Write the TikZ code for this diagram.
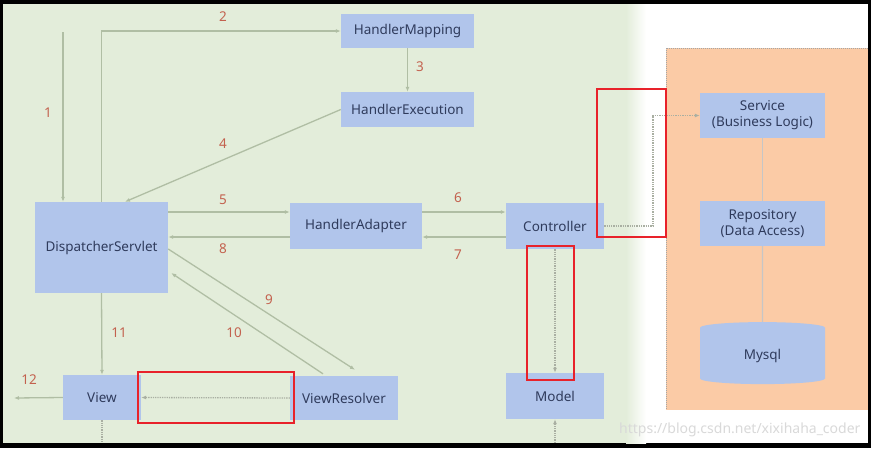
\documentclass[tikz,border=0pt]{standalone}
\usepackage{fontspec}
\setmainfont{Noto Sans}
\usepackage{xcolor}
\usepackage{tikz}
\usetikzlibrary{arrows.meta,calc,positioning,shapes.geometric}
\definecolor{pagegreen}{HTML}{E3EDDA}
\definecolor{boxblue}{HTML}{B1C5EB}
\definecolor{boxtext}{HTML}{2F3B5C}
\definecolor{flowline}{HTML}{B0BEA4}
\definecolor{steplabel}{HTML}{C3614E}
\definecolor{layerorange}{HTML}{FBCBA6}
\definecolor{markred}{HTML}{E8222A}
\definecolor{dotgray}{HTML}{A9AFA2}

\begin{document}
\begin{tikzpicture}[x=1pt,y=-1pt,>={Latex[length=5pt,width=4pt]},font=\fontsize{13.5}{16}\selectfont]
      \tikzstyle{mvcbox}=[fill=boxblue,text=boxtext,inner sep=0pt,align=center]
      \tikzstyle{flow}=[draw=flowline,line width=1.3pt]
      \tikzstyle{dotflow}=[draw=dotgray,line width=1.3pt,densely dotted]
      \tikzstyle{numlabel}=[text=steplabel,inner sep=0pt]
      \tikzstyle{redmark}=[draw=markred,line width=1.6pt]
      \useasboundingbox (0,0) rectangle (871,448);
      \fill[black] (0,0) rectangle (871,448);
      \fill[white] (3,4) rectangle (868,443);
      \fill[pagegreen] (3,4) rectangle (626,443);
      \shade[left color=pagegreen,right color=white] (626,4) rectangle (646,443);
      \fill[layerorange] (666,48) rectangle (868,410);
      \draw[gray!70,line width=1pt,densely dotted] (868,48) -- (666,48) -- (666,410);

      \node[mvcbox,minimum width=133pt,minimum height=34pt] (hmap) at (407.5,31) {HandlerMapping};
      \node[mvcbox,minimum width=133pt,minimum height=35pt] (hexec) at (407.5,109.5) {HandlerExecution};
      \node[mvcbox,minimum width=133pt,minimum height=91pt] (ds) at (101.5,247.5) {DispatcherServlet};
      \node[mvcbox,minimum width=132pt,minimum height=46pt] (hadapt) at (356,226) {HandlerAdapter};
      \node[mvcbox,minimum width=98pt,minimum height=46pt] (ctrl) at (555,226) {Controller};
      \node[mvcbox,minimum width=98pt,minimum height=46pt] (model) at (555,396) {Model};
      \node[mvcbox,minimum width=78pt,minimum height=45pt] (view) at (102,397.5) {View};
      \node[mvcbox,minimum width=108pt,minimum height=44pt] (vres) at (344,398) {ViewResolver};
      \node[mvcbox,minimum width=125pt,minimum height=45pt] (service) at (762.5,115.5) {Service\\(Business Logic)};
      \node[mvcbox,minimum width=125pt,minimum height=45pt] (repo) at (762.5,223.5) {Repository\\(Data Access)};
      \node[mvcbox,cylinder,shape border rotate=90,aspect=0.3,minimum width=125pt,minimum height=62pt] (mysql) at (762.5,356) {Mysql};

      \coordinate (start1) at (63,32);
      \coordinate (end12) at (14,398);
      \coordinate (bend) at (653,170);
      \coordinate (viewcut) at (102,443);
      \coordinate (modelcut) at (555,443);

      \draw[flow,->] (start1) -- (ds.north -| start1);
      \draw[flow,->] (ds.north) |- (hmap.west);
      \draw[flow,->] (hmap.south) -- (hexec.north);
      \draw[flow,->] (hexec.west) -- ([xshift=23.5pt]ds.north);
      \draw[flow,->] ([yshift=35.5pt]ds.east) -- ([yshift=14pt]hadapt.west);
      \draw[flow,->] ([yshift=14pt]hadapt.east) -- ([yshift=14pt]ctrl.west);
      \draw[flow,->] ([yshift=-11pt]ctrl.west) -- ([yshift=-11pt]hadapt.east);
      \draw[flow,->] ([yshift=-11pt]hadapt.west) -- ([yshift=10.5pt]ds.east);
      \draw[flow,->] ([yshift=-1.5pt]ds.east) -- ([xshift=11pt,yshift=6pt]vres.north);
      \draw[flow,->] ([xshift=-21pt,yshift=2pt]vres.north) -- ([xshift=3pt,yshift=-25.5pt]ds.east);
      \draw[flow,->] (ds.south) -- (view.north);
      \draw[flow,->] (view.west) -- (end12);
      \draw[dotflow,->] (vres.west) -- (view.east);
      \draw[dotflow,->] (ctrl.south) -- (model.north);
      \draw[dotflow,->] (ctrl.east) -| (bend) |- (service.west);
      \draw[dotflow] (view.south) -- (viewcut);
      \draw[dotflow,->] (modelcut) -- (model.south);
      \draw[draw=gray!45,line width=1.2pt] (service.south) -- (repo.north);
      \draw[draw=gray!45,line width=1.2pt] (repo.south) -- (mysql.north);

      \node[numlabel] (lab1) at (48,113) {1};
      \node[numlabel] (lab2) at (223,17) {2};
      \node[numlabel] (lab3) at (420,67) {3};
      \node[numlabel] (lab4) at (223,144) {4};
      \node[numlabel] (lab5) at (223,200) {5};
      \node[numlabel] (lab6) at (458,198) {6};
      \node[numlabel] (lab7) at (458,255) {7};
      \node[numlabel] (lab8) at (223,249) {8};
      \node[numlabel] (lab9) at (269,300) {9};
      \node[numlabel] (lab10) at (234,333) {10};
      \node[numlabel] (lab11) at (119,333) {11};
      \node[numlabel] (lab12) at (29,380) {12};

      \draw[redmark] (597,89) rectangle (666,237);
      \draw[redmark] (527,246) rectangle (574,380);
      \draw[redmark] (138,372) rectangle (294,423);

      \node[text=gray!30,font=\fontsize{14}{16}\selectfont,anchor=east] (mark) at (864,430) {https://blog.csdn.net/xixihaha\_coder};
    \end{tikzpicture}
\end{document}
